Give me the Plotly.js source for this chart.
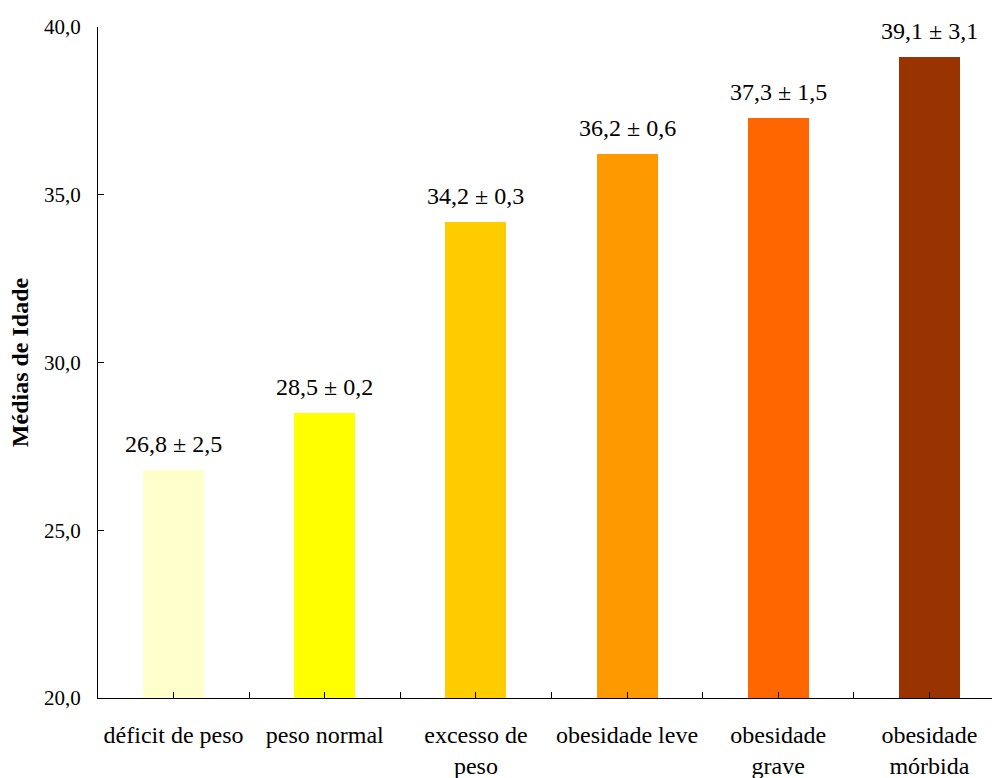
<!DOCTYPE html>
<html><head><meta charset="utf-8">
<script src="https://cdn.plot.ly/plotly-3.0.1.min.js"></script>
<style>html,body{margin:0;padding:0;background:#fff}</style>
</head><body>
<div id="chart" style="width:992px;height:778px"></div>
<script>
const categories = ["déficit de peso", "peso normal", "excesso de<br>peso", "obesidade leve", "obesidade<br>grave", "obesidade<br>mórbida"];
const means = [26.8, 28.5, 34.2, 36.2, 37.3, 39.1];
const sds = [2.5, 0.2, 0.3, 0.6, 1.5, 3.1];
const colors = ["#FFFFCC", "#FFFF00", "#FFCC00", "#FF9900", "#FF6600", "#993300"];
const yTicks = [20, 25, 30, 35, 40];

const idx = categories.map((c, i) => i);
const fmt = v => v.toFixed(1).replace('.', ',');
const fam = "Liberation Serif, Times New Roman, serif";
const font24 = {family: fam, size: 24, color: "#000"};
const font21 = {family: fam, size: 21, color: "#000"};

const trace = {
  type: 'bar', x: idx, y: means, marker: {color: colors, line: {width: 0}},
  width: 0.404, hoverinfo: 'none'
};
const annotations = idx.map(i => ({
  x: i, y: means[i], xref: 'x', yref: 'y', text: fmt(means[i]) + ' ± ' + fmt(sds[i]),
  showarrow: false, yanchor: 'bottom', yshift: 11, font: font24
}));
const layout = {
  width: 992, height: 778, margin: {l: 98, r: 0, t: 27, b: 80},
  paper_bgcolor: '#fff', plot_bgcolor: '#fff', font: font24, showlegend: false,
  bargap: 0,
  xaxis: {
    range: [-0.5, 5.414], tickmode: 'array', tickvals: idx, ticktext: categories,
    ticks: 'inside', ticklen: 6, tickcolor: '#000', showline: true, linecolor: '#000', linewidth: 1,
    showgrid: false, zeroline: false, ticklabelstandoff: 15, fixedrange: true, tickfont: font24,
    minor: {tickmode: 'linear', tick0: 0.5, dtick: 1, ticks: 'inside', ticklen: 6, tickcolor: '#000', showgrid: false}
  },
  yaxis: {
    range: [20, 40], tickmode: 'array', tickvals: yTicks, ticktext: yTicks.map(fmt),
    ticks: 'inside', ticklen: 6, tickcolor: '#000', showline: true, linecolor: '#000', linewidth: 1,
    showgrid: false, zeroline: false, ticklabelstandoff: 12, fixedrange: true, tickfont: font21,
    title: {text: '<b>Médias de Idade</b>', font: font24, standoff: 8}
  },
  annotations: annotations
};
Plotly.newPlot('chart', [trace], layout, {displayModeBar: false, staticPlot: true});
</script>
</body></html>
